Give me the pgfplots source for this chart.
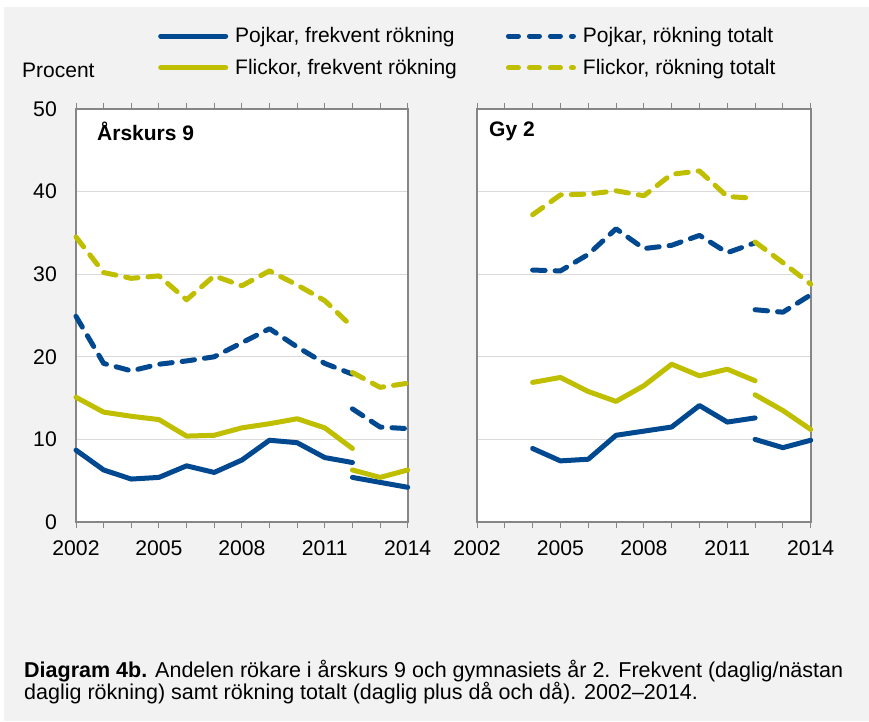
\documentclass[border=0pt]{standalone}
\usepackage{fontspec}
\setmainfont{Liberation Sans}
\usepackage{pgfplots}
\pgfplotsset{compat=1.18}
\definecolor{bl}{RGB}{0,73,144}
\definecolor{ye}{RGB}{191,191,0}
\definecolor{bg}{RGB}{242,242,242}
\definecolor{fr}{RGB}{134,134,134}
\definecolor{gr}{RGB}{217,217,217}
\pgfplotsset{
 panel/.style={
  scale only axis, height=413pt, anchor=south west,
  xmin=2002, xmax=2014, ymin=0, ymax=50,
  xtick={2002,...,2014}, xticklabels={2002,,,2005,,,2008,,,2011,,,2014},
  ytick={0,10,...,50}, ymajorgrids, grid style={gr, line width=1pt},
  axis line style={fr, line width=1.6pt},
  tick align=outside, major tick length=6pt,
  xtick style={fr, line width=1pt},
  ytick style={draw=none},
  tick label style={font=\fontsize{21.2}{25}\selectfont, inner sep=0pt},
  /pgf/number format/assume math mode=true,
  axis background/.style={fill=white},
  clip=false,
  every axis plot/.append style={line width=5pt, line join=round, line cap=round},
  xticklabel style={yshift=-12pt},
  yticklabel style={xshift=-13pt},
 },
 pf/.style={bl},
 pt/.style={bl, dash pattern=on 12.5pt off 10pt},
 ff/.style={ye},
 ft/.style={ye, dash pattern=on 12.5pt off 10pt},
}
\begin{document}
\begin{tikzpicture}[font=\fontsize{21}{25}\selectfont]
\path[fill=white] (0pt,0pt) rectangle (869pt,721pt);
\fill[bg] (4pt,0pt) rectangle (869pt,714pt);
\begin{axis}[panel, at={(76pt,199pt)}, width=331.7pt,
  legend columns=2,
  legend cell align=left,
  legend style={draw=none, fill=none, inner sep=0pt,
    at={(axis description cs:0.2472,1.1973)}, anchor=north west,
    font=\fontsize{21}{25}\selectfont,
    nodes={inner xsep=7pt, inner ysep=0pt},
    row sep=15pt,
    /tikz/every even column/.append style={column sep=42pt}},
  legend image code/.code={\draw[#1, line width=5pt, line cap=round] (2.5pt,0pt) -- (67.5pt,0pt);},
]
\addlegendimage{bl}
\addlegendentry{Pojkar, frekvent rökning}
\addlegendimage{bl, dash pattern=on 10pt off 11pt}
\addlegendentry{Pojkar, rökning totalt}
\addlegendimage{ye}
\addlegendentry{Flickor, frekvent rökning}
\addlegendimage{ye, dash pattern=on 10pt off 11pt}
\addlegendentry{Flickor, rökning totalt}
\addplot[pf, forget plot] coordinates {(2002,8.7)(2003,6.3)(2004,5.2)(2005,5.4)(2006,6.8)(2007,6.0)(2008,7.5)(2009,9.9)(2010,9.6)(2011,7.8)(2012,7.2)};
\addplot[pf, forget plot] coordinates {(2012,5.4)(2013,4.8)(2014,4.2)};
\addplot[pt, forget plot] coordinates {(2002,24.9)(2003,19.2)(2004,18.3)(2005,19.1)(2006,19.5)(2007,20.0)(2008,21.7)(2009,23.4)(2010,21.2)(2011,19.2)(2012,17.9)};
\addplot[pt, forget plot] coordinates {(2012,13.7)(2013,11.5)(2014,11.3)};
\addplot[ff, forget plot] coordinates {(2002,15.1)(2003,13.3)(2004,12.8)(2005,12.4)(2006,10.4)(2007,10.5)(2008,11.4)(2009,11.9)(2010,12.5)(2011,11.4)(2012,8.9)};
\addplot[ff, forget plot] coordinates {(2012,6.3)(2013,5.4)(2014,6.3)};
\addplot[ft, forget plot] coordinates {(2002,34.5)(2003,30.2)(2004,29.5)(2005,29.8)(2006,26.9)(2007,29.8)(2008,28.6)(2009,30.4)(2010,28.7)(2011,26.8)(2012,23.6)};
\addplot[ft, forget plot] coordinates {(2012,18.1)(2013,16.3)(2014,16.8)};
\end{axis}
\begin{axis}[panel, at={(477pt,199pt)}, width=333.7pt, yticklabels={}]
\addplot[pf] coordinates {(2004,8.9)(2005,7.4)(2006,7.6)(2007,10.5)(2008,11.0)(2009,11.5)(2010,14.1)(2011,12.1)(2012,12.6)};
\addplot[pf] coordinates {(2012,10.0)(2013,9.0)(2014,9.9)};
\addplot[pt] coordinates {(2004,30.5)(2005,30.4)(2006,32.4)(2007,35.5)(2008,33.1)(2009,33.5)(2010,34.7)(2011,32.6)(2012,33.8)};
\addplot[pt] coordinates {(2012,25.7)(2013,25.4)(2014,27.5)};
\addplot[ff] coordinates {(2004,16.9)(2005,17.5)(2006,15.8)(2007,14.6)(2008,16.5)(2009,19.1)(2010,17.7)(2011,18.5)(2012,17.1)};
\addplot[ff] coordinates {(2012,15.4)(2013,13.5)(2014,11.2)};
\addplot[ft] coordinates {(2004,37.2)(2005,39.6)(2006,39.7)(2007,40.1)(2008,39.5)(2009,42.1)(2010,42.5)(2011,39.4)(2012,39.2)};
\addplot[ft] coordinates {(2012,33.9)(2013,31.4)(2014,28.8)};
\end{axis}
\node[anchor=west, inner sep=0pt, font=\fontsize{21}{25}\selectfont\bfseries] at (97pt,590pt) {Årskurs 9};
\node[anchor=west, inner sep=0pt, font=\fontsize{21}{25}\selectfont\bfseries] at (489pt,590pt) {Gy 2};
\node[anchor=west, inner sep=0pt] at (22pt,651pt) {Procent};
\node[anchor=base west, inner sep=0pt, font=\fontsize{21.5}{25}\selectfont] at (24pt,43.7pt) {\textbf{Diagram 4b.} Andelen rökare i årskurs 9 och gymnasiets år 2. Frekvent (daglig/nästan};
\node[anchor=base west, inner sep=0pt, font=\fontsize{21.5}{25}\selectfont] at (24pt,21.7pt) {daglig rökning) samt rökning totalt (daglig plus då och då). 2002–2014.};
\end{tikzpicture}
\end{document}
